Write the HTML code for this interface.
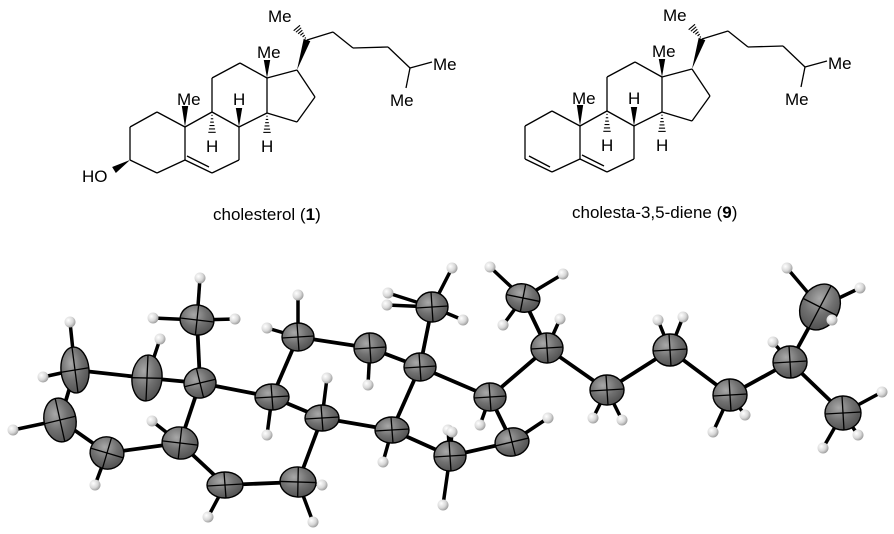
<!DOCTYPE html>
<html><head><meta charset="utf-8"><style>
html,body{margin:0;padding:0;background:#fff;}
svg{display:block;}
text{font-family:"Liberation Sans",Arial,sans-serif;fill:#000;}
</style></head><body>
<svg id="s" width="894" height="534" viewBox="0 0 894 534" xmlns="http://www.w3.org/2000/svg">
<defs>
<radialGradient id="g" cx="0.38" cy="0.35" r="0.75">
<stop offset="0" stop-color="#a8a8a8"/><stop offset="0.5" stop-color="#707070"/><stop offset="1" stop-color="#4a4a4a"/>
</radialGradient>
<radialGradient id="h" cx="0.35" cy="0.35" r="0.7">
<stop offset="0" stop-color="#ffffff"/><stop offset="0.6" stop-color="#d8d8d8"/><stop offset="1" stop-color="#9a9a9a"/>
</radialGradient>
</defs>
<g id="chem" stroke="#000" stroke-width="1.3" fill="none"></g>
<g id="ortep"></g>
<text x="213" y="220" font-size="17">cholesterol (<tspan font-weight="bold">1</tspan>)</text>
<text x="572" y="218" font-size="17">cholesta-3,5-diene (<tspan font-weight="bold">9</tspan>)</text>
</svg>
<script>
var NS="http://www.w3.org/2000/svg";
function el(p,t,a,txt){var e=document.createElementNS(NS,t);for(var k in a)e.setAttribute(k,a[k]);if(txt)e.textContent=txt;p.appendChild(e);return e;}
var chem=document.getElementById('chem'),svg=document.getElementById('s');
function mol(ox,oy,diene){
 function P(x,y){return [x+ox,y+oy];}
 function L(a,b){var p=P(a[0],a[1]),q=P(b[0],b[1]);el(chem,'line',{x1:p[0],y1:p[1],x2:q[0],y2:q[1]});}
 function path(pts){for(var i=0;i<pts.length-1;i++)L(pts[i],pts[i+1]);}
 function wedge(a,b,w){var p=P(a[0],a[1]),q=P(b[0],b[1]);var dx=q[0]-p[0],dy=q[1]-p[1],l=Math.hypot(dx,dy),nx=-dy/l*w,ny=dx/l*w;
  el(svg,'polygon',{points:p[0]+','+p[1]+' '+(q[0]+nx)+','+(q[1]+ny)+' '+(q[0]-nx)+','+(q[1]-ny),fill:'#000'});}
 function hash(a,b,w){var p=P(a[0],a[1]),q=P(b[0],b[1]);var dx=q[0]-p[0],dy=q[1]-p[1],l=Math.hypot(dx,dy),nx=-dy/l,ny=dx/l;
  for(var i=1;i<=6;i++){var t=i/6.5,cx=p[0]+dx*t,cy=p[1]+dy*t,ww=w*t;el(chem,'line',{x1:cx+nx*ww,y1:cy+ny*ww,x2:cx-nx*ww,y2:cy-ny*ww,'stroke-width':1.1});}}
 function T(x,y,s){el(svg,'text',{x:x+ox,y:y+oy,'font-size':17},s);}
 var A1=[157,112],A2=[130,127],A3=[130,160],A4=[157,173],C5=[185,160],C10=[185,127];
 var C6=[212,173],C7=[239,160],C8=[239,127],C9=[212,112];
 var C14=[267,113],C13=[267,78],C12=[240,63],C11=[212,78];
 var C15=[297,122],C16=[315,97],C17=[297,70],C20=[307,40];
 path([A1,A2,A3,A4,C5,C10,A1]);
 path([C10,C9,C8,C7,C6,C5]);
 L([187,156],[209,167]);
 if(diene){L([134,157],[155,168]);}
 path([C9,C11,C12,C13,C14,C8]);
 path([C13,C17,C16,C15,C14]);
 path([C20,[333,32],[353,48],[388,47],[410,68],[432,62]]);
 L([410,68],[406,88]);
 wedge(C17,C20,3.5);
 hash(C20,[296,27],4.5);
 wedge(C10,[185,106],3.2);
 wedge(C13,[267,60],3.2);
 wedge(C8,[239,108],3.2);
 hash(C9,[212,134],4);
 hash(C14,[267,134],4);
 T(268,22,'Me');T(177,105,'Me');T(257,58,'Me');
 T(233,105,'H');T(206,152,'H');T(261,152,'H');
 T(433,70,'Me');T(390,106,'Me');
 if(!diene){wedge(A3,[114,170],3.5);T(82,182,'HO');}
}
mol(0,0,false);mol(395,-1,true);

var C=[[75,370,14,23,-5],[147,378,15,23,5],[200,383,16,15,-10],[197,320,17,15,10],[60,420,16,22,-10],[107,453,17,16,20],[180,443,18,16,10],
[225,485,18,13,0],[298,482,18,15,5],[272,397,17,13,0],[322,418,17,13,0],[298,337,16,14,0],[370,348,16,15,0],[420,367,16,14,0],[392,430,17,13,0],
[432,307,16,15,0],[450,456,16,15,0],[523,298,17,14,15],[547,348,16,15,0],[490,397,16,14,0],[512,442,17,14,-10],[607,390,17,15,0],[670,350,17,16,0],
[730,395,17,16,0],[790,362,17,16,0],[820,307,19,24,30],[843,413,18,17,0]];
var B=[[0,1],[0,4],[1,2],[2,3],[2,6],[2,9],[4,5],[5,6],[6,7],[7,8],[8,10],[9,10],[9,11],[11,12],[12,13],[13,14],[10,14],[13,15],[14,16],[13,19],[19,20],[20,16],[19,18],[18,17],[18,21],[21,22],[22,23],[23,24],[24,25],[24,26]];
var H=[[70,322],[43,377],[160,339],[152,421],[200,278],[153,318],[235,319],[13,430],[95,485],[208,517],[313,522],[322,485],[298,295],[267,328],[327,378],[267,435],[368,385],[388,293],[387,305],[383,462],[443,505],[448,430],
[452,268],[463,320],[490,267],[563,274],[503,325],[560,319],[480,425],[452,432],[548,418],[593,418],[622,420],[658,320],[683,317],[713,432],[745,415],[773,342],[787,268],[860,288],[832,320],[882,392],[858,435],[823,448]];
var o=document.getElementById('ortep');
H.forEach(function(h){var bi=0,bd=1e9;C.forEach(function(c,i){var d=Math.hypot(c[0]-h[0],c[1]-h[1]);if(d<bd){bd=d;bi=i;}});
 el(o,'line',{x1:h[0],y1:h[1],x2:C[bi][0],y2:C[bi][1],stroke:'#000','stroke-width':3.5});});
B.forEach(function(b){el(o,'line',{x1:C[b[0]][0],y1:C[b[0]][1],x2:C[b[1]][0],y2:C[b[1]][1],stroke:'#000','stroke-width':3.8});});
C.forEach(function(c){var g=el(o,'g',{transform:'translate('+c[0]+','+c[1]+') rotate('+c[4]+')'});
 el(g,'ellipse',{cx:0,cy:0,rx:c[2],ry:c[3],fill:'url(#g)',stroke:'#000','stroke-width':1.4});
 el(g,'line',{x1:-c[2],y1:1,x2:c[2],y2:-1,stroke:'#000','stroke-width':1.3});
 el(g,'line',{x1:-1,y1:-c[3],x2:1,y2:c[3],stroke:'#000','stroke-width':1.3});});
H.forEach(function(h){el(o,'circle',{cx:h[0],cy:h[1],r:5.5,fill:'url(#h)'});});
</script>
</body></html>
